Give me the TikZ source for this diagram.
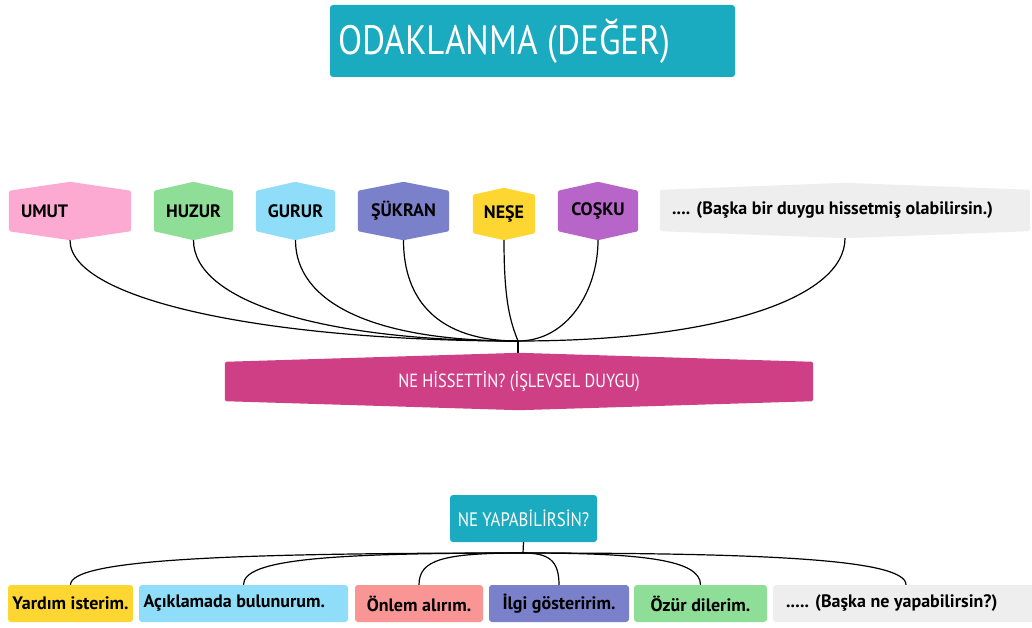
\documentclass[tikz,border=0pt]{standalone}
\usepackage{fontspec}
\setmainfont{PT Sans}
\newfontfamily\titlefont{PT Sans}[FakeStretch=0.86]
\newfontfamily\labfont{PT Sans}
\usetikzlibrary{calc,backgrounds}
\definecolor{tealc}{HTML}{1BABC0}
\definecolor{umutc}{HTML}{FDAAD3}
\definecolor{huzurc}{HTML}{8FDE98}
\definecolor{gururc}{HTML}{8FDDF8}
\definecolor{sukranc}{HTML}{7A80CA}
\definecolor{nesec}{HTML}{FDD632}
\definecolor{coskuc}{HTML}{B865C9}
\definecolor{grayc}{HTML}{EEEEEE}
\definecolor{magc}{HTML}{CF3F86}
\definecolor{salmonc}{HTML}{F99595}
\newcommand\hexbg[3]{%
  \fill[#2, rounded corners=1.5pt] ($(#1.north west)+(0,#3)$) -- (#1.north) -- ($(#1.north east)+(0,#3)$) -- ($(#1.south east)-(0,#3)$) -- (#1.south) -- ($(#1.south west)-(0,#3)$) -- cycle;}
\tikzset{
  hexnode/.style={inner sep=0pt, minimum height=58pt, font=\labfont\bfseries\fontsize{18}{21}\selectfont, text=black},
  boxnode/.style={rounded corners=3pt, inner sep=0pt, minimum height=37pt, font=\labfont\bfseries\fontsize{18}{21}\selectfont, text=black},
  link/.style={line width=1.2pt, black},
}
\begin{document}
\begin{tikzpicture}[x=1pt,y=-1pt]
\useasboundingbox (0,0) rectangle (1032,628);
% title
\node[fill=tealc, rounded corners=3pt, minimum width=405pt, minimum height=72pt, inner sep=0pt] (title) at (532.5,41) {};
\node[anchor=west, text=white, font=\titlefont\fontsize{41}{44}\selectfont, inner sep=0pt] (titletext) at (338,41) {ODAKLANMA (DEĞER)};
% top row
\node[hexnode, minimum width=122pt, text width=98pt, align=flush left] (umut) at (70,211) {UMUT};
\node[hexnode, minimum width=79pt] (huzur) at (193.5,211) {HUZUR};
\node[hexnode, minimum width=79pt] (gurur) at (295.5,211) {GURUR};
\node[hexnode, minimum width=91pt] (sukran) at (403.5,211) {ŞÜKRAN};
\node[hexnode, minimum width=62pt, minimum height=52pt] (nese) at (504,214) {NEŞE};
\node[hexnode, minimum width=80pt] (cosku) at (598,211) {COŞKU};
\node[hexnode, minimum width=370pt, minimum height=55pt, text width=346pt, align=flush left] (diger) at (845,210.5) {.... (Başka bir duygu hissetmiş olabilirsin.)};
\node[inner sep=0pt, minimum width=588pt, minimum height=57pt, text=white, font=\titlefont\fontsize{19}{22}\selectfont] (ne) at (519,381.5) {NE HİSSETTİN? (İŞLEVSEL DUYGU)};
\begin{scope}[on background layer]
\hexbg{umut}{umutc}{9}
\hexbg{huzur}{huzurc}{9}
\hexbg{gurur}{gururc}{9}
\hexbg{sukran}{sukranc}{9}
\hexbg{nese}{nesec}{7}
\hexbg{cosku}{coskuc}{9}
\hexbg{diger}{grayc}{7}
\hexbg{ne}{magc}{9}
\end{scope}
\coordinate (hub) at (518,341);
\draw[link] (umut.south) .. controls +(0,60) and +(-250,0) .. (hub);
\draw[link] (huzur.south) .. controls +(0,60) and +(-200,0) .. (hub);
\draw[link] (gurur.south) .. controls +(0,60) and +(-150,0) .. (hub);
\draw[link] (sukran.south) .. controls +(0,60) and +(-80,0) .. (hub);
\draw[link] (nese.south) .. controls +(0,60) and +(-8,-20) .. (hub);
\draw[link] (cosku.south) .. controls +(0,50) and +(50,0) .. (hub);
\draw[link] (diger.south) .. controls +(0,60) and +(200,0) .. (hub);
\draw[link] (hub) -- (hub |- ne.north);
% bottom
\node[fill=tealc, rounded corners=3pt, minimum width=147pt, minimum height=47pt, inner sep=0pt, text=white, font=\titlefont\fontsize{19.5}{22}\selectfont] (yap) at (523.5,518.5) {NE YAPABİLİRSİN?};
\node[boxnode, fill=nesec, minimum width=125pt] (yardim) at (70.5,603.5) {Yardım isterim.};
\node[boxnode, fill=gururc, minimum width=209pt, text width=200pt, align=flush left] (aciklama) at (243.5,603.5) {Açıklamada bulunurum.};
\node[boxnode, fill=salmonc, minimum width=128pt] (onlem) at (419,603.5) {Önlem alırım.};
\node[boxnode, fill=sukranc, minimum width=140pt] (ilgi) at (559,603.5) {İlgi gösteririm.};
\node[boxnode, fill=huzurc, minimum width=133pt] (ozur) at (700.5,603.5) {Özür dilerim.};
\node[boxnode, fill=grayc, minimum width=262pt, text width=236pt, align=flush left] (baska) at (904,603.5) {..... (Başka ne yapabilirsin?)};
\coordinate (hub2) at (523,553);
\draw[link] (yap.south) -- (hub2);
\draw[link] (yardim.north) .. controls +(0,-25) and +(-300,0) .. (hub2);
\draw[link] (aciklama.north) .. controls +(0,-25) and +(-200,0) .. (hub2);
\draw[link] (onlem.north) .. controls +(0,-25) and +(-80,0) .. (hub2);
\draw[link] (ilgi.north) .. controls +(0,-25) and +(25,0) .. (hub2);
\draw[link] (ozur.north) .. controls +(0,-25) and +(120,0) .. (hub2);
\draw[link] ([xshift=2pt]baska.north) .. controls +(0,-25) and +(250,0) .. (hub2);
\end{tikzpicture}
\end{document}
